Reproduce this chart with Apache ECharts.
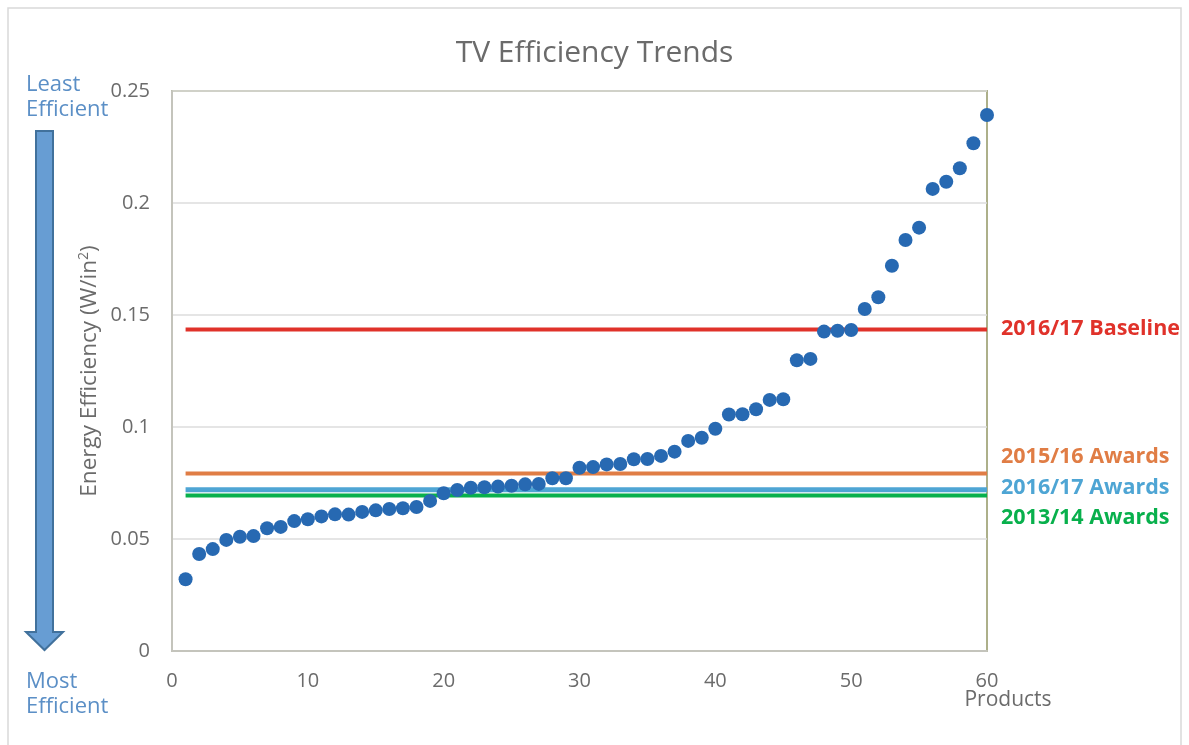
<!DOCTYPE html>
<html>
<head>
<meta charset="utf-8">
<title>TV Efficiency Trends</title>
<script src="https://cdn.jsdelivr.net/npm/echarts@6/dist/echarts.min.js"></script>
<style>
  html, body { margin: 0; padding: 0; background: #ffffff; }
  #chart { width: 1189px; height: 745px; }
</style>
</head>
<body>
<div id="chart"></div>
<script>
// Energy efficiency (W/in²) of each product, sorted from most to least efficient
const products = [
  1, 2, 3, 4, 5, 6, 7, 8, 9, 10, 11, 12, 13, 14, 15, 16, 17, 18, 19, 20,
  21, 22, 23, 24, 25, 26, 27, 28, 29, 30, 31, 32, 33, 34, 35, 36, 37, 38, 39, 40,
  41, 42, 43, 44, 45, 46, 47, 48, 49, 50, 51, 52, 53, 54, 55, 56, 57, 58, 59, 60
];
const efficiency = [
  0.0320, 0.0433, 0.0455, 0.0496, 0.0510, 0.0513, 0.0548, 0.0554, 0.0580, 0.0588,
  0.0601, 0.0610, 0.0609, 0.0621, 0.0628, 0.0634, 0.0637, 0.0643, 0.0670, 0.0704,
  0.0719, 0.0729, 0.0731, 0.0734, 0.0738, 0.0744, 0.0746, 0.0771, 0.0771, 0.0818,
  0.0821, 0.0833, 0.0835, 0.0856, 0.0857, 0.0871, 0.0890, 0.0938, 0.0952, 0.0992,
  0.1056, 0.1057, 0.1079, 0.1121, 0.1124, 0.1298, 0.1304, 0.1426, 0.1430, 0.1433,
  0.1527, 0.1579, 0.1720, 0.1835, 0.1890, 0.2063, 0.2095, 0.2155, 0.2267, 0.2393
];

// Threshold levels drawn as horizontal reference lines
const thresholdNames = ['2016/17 Baseline', '2015/16 Awards', '2016/17 Awards', '2013/14 Awards'];
const thresholdValues = [0.1435, 0.0792, 0.0720, 0.0694];
const thresholdColors = ['#e0322a', '#e07d45', '#4ea5d4', '#08b04c'];
const thresholdWidths = [4, 4, 5, 4];
const thresholdLabelShift = [-1, -17, -2, 22];

const FONT = '"Open Sans", Lato, sans-serif';
const GRAY = '#6b6b6b';

const chart = echarts.init(document.getElementById('chart'), null, { renderer: 'canvas' });

const thresholdSeries = thresholdNames.map((name, i) => ({
  name: name,
  type: 'line',
  data: [[products[0], thresholdValues[i]], [products[products.length - 1], thresholdValues[i]]],
  symbol: 'none',
  silent: true,
  z: 2,
  lineStyle: { color: thresholdColors[i], width: thresholdWidths[i] },
  endLabel: {
    show: true,
    formatter: '{a}',
    distance: 14,
    offset: [0, thresholdLabelShift[i]],
    color: thresholdColors[i],
    fontFamily: FONT,
    fontWeight: 'bold',
    fontSize: 21.5
  }
}));

chart.setOption({
  backgroundColor: '#ffffff',
  animation: false,
  textStyle: { fontFamily: FONT },
  title: {
    text: 'TV Efficiency Trends',
    left: 'center',
    top: 38,
    padding: 0,
    textStyle: { fontFamily: FONT, fontSize: 30, fontWeight: 'normal', color: GRAY }
  },
  grid: {
    left: 172, right: 202, top: 91, bottom: 94,
    show: true,
    borderColor: '#adb08a',
    borderWidth: 2
  },
  xAxis: {
    type: 'value',
    min: 0, max: 60, interval: 10,
    name: 'Products',
    nameLocation: 'end',
    nameGap: 21,
    nameMoveOverlap: false,
    nameTextStyle: {
      fontFamily: FONT, fontSize: 21, color: GRAY,
      align: 'center', verticalAlign: 'top', padding: [39, 0, 0, 0]
    },
    axisLine: { show: true, lineStyle: { color: '#c4c4bc', width: 2 } },
    axisTick: { show: false },
    axisLabel: { fontFamily: FONT, fontSize: 20, color: GRAY, margin: 20 },
    splitLine: { show: false }
  },
  yAxis: {
    type: 'value',
    min: 0, max: 0.25, interval: 0.05,
    name: 'Energy Efficiency (W/in{sup|2})',
    nameLocation: 'middle',
    nameGap: 69,
    nameMoveOverlap: false,
    nameTextStyle: {
      fontFamily: FONT, fontSize: 22.5, color: GRAY,
      rich: {
        sup: { fontFamily: FONT, fontSize: 14, color: GRAY, verticalAlign: 'top', padding: [0, 0, 12, 0] }
      }
    },
    axisLine: { show: true, lineStyle: { color: '#c4c4bc', width: 2 } },
    axisTick: { show: false },
    axisLabel: { fontFamily: FONT, fontSize: 20, color: GRAY, margin: 22 },
    splitLine: { show: true, lineStyle: { color: '#dcdcdc', width: 1.5 } }
  },
  graphic: [
    {
      type: 'rect',
      shape: { x: 8, y: 8, width: 1173, height: 760 },
      style: { fill: 'none', stroke: '#d9d9d9', lineWidth: 1.5 },
      silent: true
    },
    {
      type: 'polygon',
      shape: { points: [[36, 131], [53, 131], [53, 632], [63, 632], [44.5, 650], [26, 632], [36, 632]] },
      style: { fill: '#679dd3', stroke: '#41719c', lineWidth: 2 },
      silent: true
    },
    {
      type: 'text',
      style: { text: 'Least\nEfficient', x: 26, y: 72, font: '22px ' + FONT, fill: '#5b8fc6', lineHeight: 25 },
      silent: true
    },
    {
      type: 'text',
      style: { text: 'Most\nEfficient', x: 26, y: 669, font: '22px ' + FONT, fill: '#5b8fc6', lineHeight: 25 },
      silent: true
    }
  ],
  series: thresholdSeries.concat([{
    name: 'Products',
    type: 'scatter',
    data: products.map((p, i) => [p, efficiency[i]]),
    symbol: 'circle',
    symbolSize: 14,
    z: 5,
    itemStyle: { color: '#2769b2', opacity: 1 }
  }])
});
</script>
</body>
</html>
